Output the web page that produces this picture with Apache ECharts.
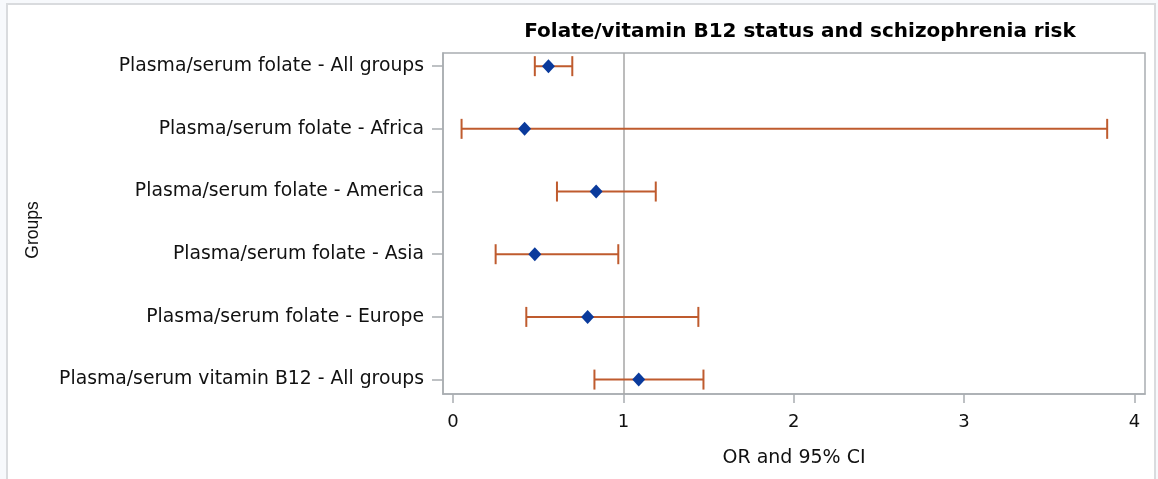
<!DOCTYPE html>
<html>
<head>
<meta charset="utf-8">
<script src="https://cdn.jsdelivr.net/npm/echarts@6/dist/echarts.min.js"></script>
<style>html,body{margin:0;padding:0;background:#f7f9fc;}#chart{width:1158px;height:479px;}</style>
</head>
<body>
<div id="chart"></div>
<script>
const categories = [
  'Plasma/serum folate - All groups',
  'Plasma/serum folate - Africa',
  'Plasma/serum folate - America',
  'Plasma/serum folate - Asia',
  'Plasma/serum folate - Europe',
  'Plasma/serum vitamin B12 - All groups'
];
const orValues = [0.56, 0.42, 0.84, 0.48, 0.79, 1.09];
const lowerCI  = [0.48, 0.05, 0.61, 0.25, 0.43, 0.83];
const upperCI  = [0.70, 3.84, 1.19, 0.97, 1.44, 1.47];
const xTicks = [0, 1, 2, 3, 4];
const refValue = 1;

const chart = echarts.init(document.getElementById('chart'));
const axisGrey = '#a9adb1';
const barColor = '#bf5b2e';
const pointColor = '#0a3a9c';
const font = 'DejaVu Sans';

chart.setOption({
  backgroundColor: '#f7f9fc',
  animation: false,
  graphic: [{
    type: 'rect', z: -10,
    shape: { x: 7, y: 4, width: 1148, height: 490 },
    style: { fill: '#ffffff', stroke: '#d9dbde', lineWidth: 2 }
  }, {
    type: 'text', x: 33, y: 230, rotation: Math.PI / 2,
    style: { text: 'Groups', fontFamily: 'Liberation Sans', fontSize: 17.5, fill: '#111', align: 'center', verticalAlign: 'middle' }
  }],
  title: {
    text: 'Folate/vitamin B12 status and schizophrenia risk',
    left: 795, top: 17, textAlign: 'center',
    textStyle: { fontFamily: font, fontWeight: 'bold', fontSize: 20, color: '#000' }
  },
  grid: { left: 443, right: 13, top: 53, bottom: 85, show: true, borderColor: axisGrey, borderWidth: 1.5, backgroundColor: 'transparent' },
  xAxis: {
    type: 'value', min: -0.059, max: 4.062,
    name: 'OR and 95% CI', nameLocation: 'middle', nameGap: 55,
    nameTextStyle: { fontFamily: font, fontSize: 19, color: '#111' },
    axisLine: { show: true, onZero: false, lineStyle: { color: axisGrey, width: 1.5 } },
    axisTick: { show: true, customValues: xTicks, length: 9, lineStyle: { color: axisGrey, width: 1.5 } },
    axisLabel: { customValues: xTicks, margin: 19, fontFamily: font, fontSize: 18, color: '#111' },
    splitLine: { show: false }
  },
  yAxis: {
    type: 'value', min: -0.21, max: 5.23, inverse: true,
    axisLine: { show: true, onZero: false, lineStyle: { color: axisGrey, width: 1.5 } },
    axisTick: { show: true, customValues: categories.map((c, i) => i), length: 11, lineStyle: { color: axisGrey, width: 1.5 } },
    axisLabel: {
      customValues: categories.map((c, i) => i), margin: 19,
      fontFamily: font, fontSize: 18.8, color: '#111',
      formatter: v => categories[Math.round(v)] || ''
    },
    splitLine: { show: false }
  },
  series: [
    {
      type: 'custom', z: 3,
      data: categories.map((c, i) => [lowerCI[i], upperCI[i], i]),
      renderItem: function (params, api) {
        const lo = api.coord([api.value(0), api.value(2)]);
        const hi = api.coord([api.value(1), api.value(2)]);
        const h = 10;
        const st = { stroke: barColor, lineWidth: 2 };
        return {
          type: 'group',
          children: [
            { type: 'line', shape: { x1: lo[0], y1: lo[1], x2: hi[0], y2: hi[1] }, style: st },
            { type: 'line', shape: { x1: lo[0], y1: lo[1] - h, x2: lo[0], y2: lo[1] + h }, style: st },
            { type: 'line', shape: { x1: hi[0], y1: hi[1] - h, x2: hi[0], y2: hi[1] + h }, style: st }
          ]
        };
      },
      markLine: {
        silent: true, symbol: 'none', z: 1,
        label: { show: false },
        lineStyle: { color: '#a6a6a6', width: 1.5, type: 'solid' },
        data: [{ xAxis: refValue }]
      }
    },
    {
      type: 'scatter', z: 4,
      symbol: 'diamond', symbolSize: [13, 14],
      itemStyle: { color: pointColor, opacity: 1 },
      data: orValues.map((v, i) => [v, i])
    }
  ]
});
</script>
</body>
</html>
